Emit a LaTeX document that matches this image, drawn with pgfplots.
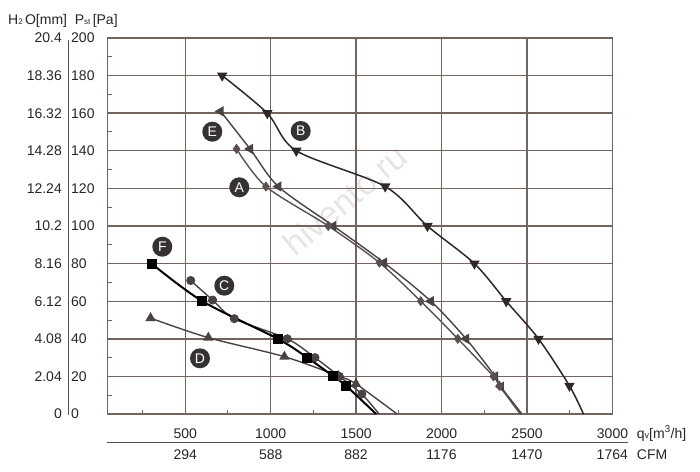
\documentclass[border=0pt]{standalone}
\usepackage{pgfplots}
\pgfplotsset{compat=1.18}
\usepackage{fontspec}
\setmainfont{Liberation Sans}
\definecolor{gridc}{HTML}{73645F}
\definecolor{curveB}{HTML}{2E2828}
\definecolor{curveG}{HTML}{4A4242}
\definecolor{curveA}{HTML}{5A5050}
\definecolor{badge}{HTML}{363232}
\definecolor{wm}{HTML}{E8E4E4}
\begin{document}
\begin{tikzpicture}[font=\fontsize{14}{16}\selectfont]
\useasboundingbox (0pt,0pt) rectangle (700pt,471pt);
% watermark
\node[rotate=40, text=wm, font=\fontsize{34}{36}\selectfont] at (345pt,271pt) {hivento.ru};
\begin{axis}[
  at={(107.5pt,57pt)}, anchor=south west,
  width=505pt, height=376pt, scale only axis,
  xmin=45, xmax=3000, ymin=0, ymax=200,
  xtick={500,1000,1500,2000,2500,3000},
  xticklabels={500,1000,1500,2000,2500,3000},
  ytick={0,20,40,60,80,100,120,140,160,180,200},
  yticklabels={0,20,40,60,80,100,120,140,160,180,200},
  minor xtick={250,750,1250,1750,2250,2750},
  minor ytick={10,30,50,70,90,110,130,150,170,190},
  xmajorgrids, ymajorgrids,
  major grid style={gridc, line width=1.4pt},
  axis line style={gridc, line width=1.4pt},
  major tick length=0pt,
  minor tick length=4pt,
  minor tick style={gridc, line width=1pt},
  xtick pos=left, ytick pos=left,
  tick align=inside,
  xticklabel style={anchor=base, inner sep=0pt, yshift=-24pt, text=black!85},
  yticklabel style={anchor=west, inner sep=0pt, xshift=-36.5pt, text=black!85},
]
% B
\addplot[curveB, line width=1.5pt, smooth, mark=triangle*, mark size=4.6pt,
  mark options={rotate=180, solid, fill=curveB}, mark indices={1,2,3,4,5,6,7,8,9}]
  coordinates {(716,180) (980,160) (1150,140) (1670,121) (1917,100) (2192,80) (2378,60) (2567,40) (2748,15) (2830,0)};
% E
\addplot[curveG, line width=1.4pt, smooth, mark=triangle*, mark size=4.6pt,
  mark options={rotate=90, solid, fill=curveG}, mark indices={1,2,3,4,5,6,7,8,9}]
  coordinates {(707,161) (879,141) (1045,121) (1367,100) (1663,80.5) (1937,60) (2143,40) (2313,20) (2347,14.5) (2470,0)};
% A
\addplot[curveA, line width=1.4pt, smooth, mark=diamond*, mark size=4pt,
  mark options={solid, fill=curveA}, mark indices={1,2,3,4,5,6,7,8}]
  coordinates {(800,141) (972,121) (1337,100) (1636,80.5) (1878,60) (2095,40) (2303,20) (2338,15) (2460,0)};
% C
\addplot[curveG, line width=1.4pt, smooth, mark=*, mark size=3.8pt,
  mark options={solid, fill=curveG}, mark indices={1,2,3,4,5,6,7}]
  coordinates {(532,71) (660,60.6) (787,50.7) (1097,40) (1259,30) (1402,20) (1533,10.6) (1634,0)};
% D
\addplot[curveG, line width=1.4pt, smooth, mark=triangle*, mark size=4.6pt,
  mark options={solid, fill=curveG}, mark indices={1,2,3,4,5}]
  coordinates {(297,51) (635,40.6) (1080,30.5) (1396,20.2) (1499,16) (1739,0)};
% F
\addplot[black, line width=2pt, smooth, mark=square*, mark size=4pt,
  mark options={solid, fill=black}, mark indices={1,2,3,4,5,6}]
  coordinates {(303,80) (600,60) (1041,40) (1214,30) (1367,20) (1441,15) (1617,0)};
\end{axis}
% left mm column
\foreach \v/\t in {0/0,20/2.04,40/4.08,60/6.12,80/8.16,100/10.2,120/12.24,140/14.28,160/16.32,180/18.36,200/20.4}
  \node[anchor=east, inner sep=0pt, text=black!85] at (62pt,{57pt+1.88pt*\v}) {\t};
\draw[gridc!80!black, line width=1.3pt] (68.5pt,431pt) -- (68.5pt,56pt);
% header
\node[anchor=base west, inner sep=0pt, text=black!85] at (8pt,446pt)
  {H{\fontsize{8}{8}\selectfont 2}\,O[mm]\ \ P{\fontsize{8}{8}\selectfont st}\,[Pa]};
% bottom CFM row
\draw[gridc!80!black, line width=1.3pt] (107pt,28.5pt) -- (628pt,28.5pt);
\foreach \x/\t in {185.3/294,270.7/588,356.1/882,441.5/1176,526.9/1470,612.3/1764}
  \node[anchor=base, inner sep=0pt, text=black!85] at (\x pt,12pt) {\t};
\node[anchor=base west, inner sep=0pt, text=black!85] at (636.7pt,33pt)
  {q{\fontsize{9}{9}\selectfont v}[m\textsuperscript{3}/h]};
\node[anchor=base west, inner sep=0pt, text=black!85] at (636.7pt,12pt) {CFM};
% badges
\foreach \x/\y/\l in {162.3/224.3/F,224.3/185.3/C,200/112.7/D,212.3/339.3/E,239.3/283.7/A,300.7/340/B}
  \node[circle, fill=badge, text=white, inner sep=0pt, minimum size=20pt,
        font=\fontsize{14}{14}\selectfont] at (\x pt,\y pt) {\l};
\end{tikzpicture}
\end{document}
